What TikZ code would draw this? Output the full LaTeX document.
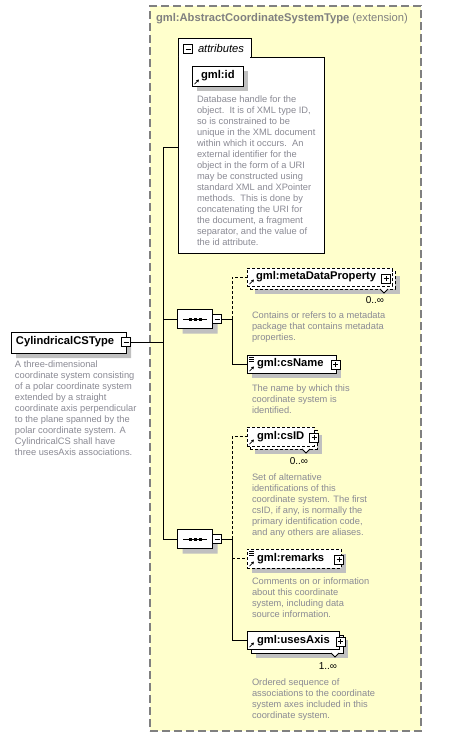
\documentclass[tikz,border=0pt]{standalone}
\usepackage{fontspec}
\setmainfont{Liberation Sans}
\usetikzlibrary{shapes.misc,shadows,arrows.meta}
\definecolor{bgyellow}{HTML}{FFFFCC}
\definecolor{extgray}{HTML}{808080}
\definecolor{shadowgray}{HTML}{C0C0C0}
\definecolor{descgray}{HTML}{8A8A94}
\newcommand\refarrow[1]{\draw[line width=0.7pt,-{Triangle[length=2.6pt,width=2.8pt]}] ([shift={(2.5,-2)}]#1.south west) -- ++(4.5,-4.5);}
\newcommand\listicon[1]{\foreach \k in {2,4,6} \draw[line width=0.6pt] ([shift={(2,\k)}]#1.north west) -- ++(5,0);}
\newcommand\seqdots[1]{\draw[line width=0.8pt] ([xshift=-12pt]#1.center) -- ([xshift=12pt]#1.center);
  \foreach \d in {-5,0,5} \fill ([shift={(\d-1.5,-1.5)}]#1.center) rectangle ++(3,3);}
\tikzset{
 every node/.style={inner sep=0pt, outer sep=0pt},
 conn/.style={line width=0.9pt},
 optconn/.style={line width=0.9pt, dash pattern=on 3pt off 2pt},
 box/.style={draw, fill=white, line width=0.9pt, rectangle, anchor=north west},
 optbox/.style={box, dash pattern=on 3pt off 2pt},
 shad/.style={drop shadow={shadow xshift=5pt, shadow yshift=-5pt, fill=shadowgray, opacity=1}},
 ename/.style={font=\fontsize{11.2}{13}\selectfont\bfseries, anchor=west},
 desc/.style={font=\fontsize{9.3}{11}\selectfont, text=descgray, align=left, anchor=north west},
 mult/.style={font=\fontsize{10}{12}\selectfont},
 minusbtn/.style={rectangle, draw, fill=white, line width=0.8pt, minimum size=9pt,
   path picture={\draw[line width=0.8pt] ([xshift=2pt]path picture bounding box.west) -- ([xshift=-2pt]path picture bounding box.east);}},
 plusbtn/.style={rectangle, draw, fill=white, line width=0.8pt, minimum size=9pt,
   path picture={\draw[line width=0.8pt] ([xshift=2pt]path picture bounding box.west) -- ([xshift=-2pt]path picture bounding box.east);
                 \draw[line width=0.8pt] ([yshift=2pt]path picture bounding box.south) -- ([yshift=-2pt]path picture bounding box.north);}},
 seqbox/.style={chamfered rectangle, chamfered rectangle xsep=4pt, chamfered rectangle ysep=4pt, draw, fill=white, line width=0.9pt, minimum width=35pt, minimum height=19pt, shad},
}
\begin{document}
\begin{tikzpicture}[x=1pt,y=-1pt]
\useasboundingbox (0,0) rectangle (464,737);
\fill[white] (0,0) rectangle (464,737);

% extension frame
\node[draw=extgray, dash pattern=on 8pt off 4pt, line width=1.3pt, fill=bgyellow, minimum width=271pt, minimum height=725pt, anchor=north west] (ext) at (150,6) {};
\node[anchor=west, text=extgray, font=\fontsize{11.2}{13}\selectfont] (title) at (156,19) {\textbf{gml:AbstractCoordinateSystemType} (extension)};

% connectors (behind)
\coordinate (v1) at (163,147);
\coordinate (v2) at (163,539);
\coordinate (vm) at (163,342);
\coordinate (vs1) at (163,319);

% attributes
\node[box, minimum width=146pt, minimum height=196pt] (attr) at (178,57) {};
\node[box, minimum width=73pt, minimum height=19pt] (attrtab) at (178,38) {};
\draw[white, line width=1.3pt] ([xshift=0.7pt]attrtab.south west) -- ([xshift=-0.7pt]attrtab.south east);
\node[minusbtn] (attrm) at (188,49) {};
\node[anchor=west, font=\fontsize{11.2}{13}\selectfont\itshape] (attrt) at (198,48) {attributes};

\node[box, shad, minimum width=51pt, minimum height=20pt] (gmlid) at (192,66) {};
\node[ename] (gmlidt) at (201,76) {gml:id};
\refarrow{gmlid}
\node[desc] (gmliddesc) at (197,95.5) {Database handle for the\\object.\ \ It is of XML type ID,\\so is constrained to be\\unique in the XML document\\within which it occurs.\ \ An\\external identifier for the\\object in the form of a URI\\may be constructed using\\standard XML and XPointer\\methods.\ \ This is done by\\concatenating the URI for\\the document, a fragment\\separator, and the value of\\the id attribute.};

\draw[conn] (v1) -- (v1 -| attr.west);
\draw[conn] (v1) -- (v2);

% main element
\node[chamfered rectangle, chamfered rectangle corners={north west,south west}, chamfered rectangle xsep=3pt, chamfered rectangle ysep=3pt, draw, fill=white, line width=0.9pt, minimum width=115pt, minimum height=21pt, shad] (main) at (68.5,342.5) {};
\node[ename] (maint) at (16,342) {CylindricalCSType};
\node[minusbtn] (mainm) at (126,342) {};
\draw[conn] (mainm.east) -- (vm);
\node[desc] (maindesc) at (15,360.5) {A three-dimensional\\coordinate system consisting\\of a polar coordinate system\\extended by a straight\\coordinate axis perpendicular\\to the plane spanned by the\\polar coordinate system. A\\CylindricalCS shall have\\three usesAxis associations.};

% sequence 1
\node[seqbox] (seq1) at (195,319) {};
\seqdots{seq1}
\node[minusbtn] (seq1m) at (217,319) {};
\draw[conn] (vs1) -- (seq1.west);
\coordinate (j1) at (232,319);
\draw[conn] (seq1m.east) -- (j1);

% metaDataProperty
\node[optbox, shad, minimum width=145pt, minimum height=18pt] (metab) at (250,271) {};
\draw[line width=0.8pt, fill=white] (380,289) -- (384,293) -- (388,289);
\node[optbox, minimum width=145pt, minimum height=18pt] (meta) at (247,268) {};
\draw[optconn] (j1) |- (meta.west);
\node[ename] (metat) at (256,277) {gml:metaDataProperty};
\node[plusbtn] (metap) at (386,278.5) {};
\refarrow{meta}
\node[mult] (metam) at (375,300) {0..∞};
\node[desc] (metadesc) at (252,311.5) {Contains or refers to a metadata\\package that contains metadata\\properties.};

% csName
\node[box, shad, minimum width=89pt, minimum height=18pt] (csname) at (247,355) {};
\draw[conn] (j1) |- (csname.west);
\node[ename] (csnamet) at (257,364) {gml:csName};
\node[plusbtn] (csnamep) at (335.5,364.5) {};
\listicon{csname}
\refarrow{csname}
\node[desc] (csnamedesc) at (252,384.5) {The name by which this\\coordinate system is\\identified.};

% sequence 2
\node[seqbox] (seq2) at (195,539) {};
\seqdots{seq2}
\node[minusbtn] (seq2m) at (217,539) {};
\draw[conn] (v2) -- (seq2.west);
\coordinate (j2) at (232,539);
\draw[conn] (seq2m.east) -- (j2);

% csID
\node[optbox, shad, minimum width=67pt, minimum height=19pt] (csidb) at (250,430) {};
\draw[line width=0.8pt, fill=white] (302,449) -- (306,453) -- (310,449);
\node[optbox, minimum width=67pt, minimum height=19pt] (csid) at (247,427) {};
\draw[optconn] (j2) |- (csid.west);
\node[ename] (csidt) at (257,437) {gml:csID};
\node[plusbtn] (csidp) at (314,437.5) {};
\refarrow{csid}
\node[mult] (csidm) at (299,461) {0..∞};
\node[desc] (csiddesc) at (252,473.5) {Set of alternative\\identifications of this\\coordinate system. The first\\csID, if any, is normally the\\primary identification code,\\and any others are aliases.};

% remarks
\node[optbox, shad, minimum width=94pt, minimum height=19pt] (remarks) at (247,549) {};
\draw[optconn] (j2 |- remarks.west) -- (remarks.west);
\node[ename] (remarkst) at (257,559) {gml:remarks};
\node[plusbtn] (remarksp) at (339,559.5) {};
\listicon{remarks}
\refarrow{remarks}
\node[desc] (remarksdesc) at (252,578) {Comments on or information\\about this coordinate\\system, including data\\source information.};

% usesAxis
\node[box, shad, minimum width=92pt, minimum height=18pt] (usesb) at (251,635) {};
\draw[line width=0.8pt, fill=white] (331,653) -- (335,657) -- (339,653);
\node[box, minimum width=92pt, minimum height=18pt] (uses) at (247,631) {};
\draw[conn] (j2) |- (uses.west);
\node[ename] (usest) at (257,641) {gml:usesAxis};
\node[plusbtn] (usesp) at (340.5,641.5) {};
\refarrow{uses}
\node[mult] (usesm) at (328,666) {1..∞};
\node[desc] (usesdesc) at (252,678.5) {Ordered sequence of\\associations to the coordinate\\system axes included in this\\coordinate system.};
\end{tikzpicture}
\end{document}
